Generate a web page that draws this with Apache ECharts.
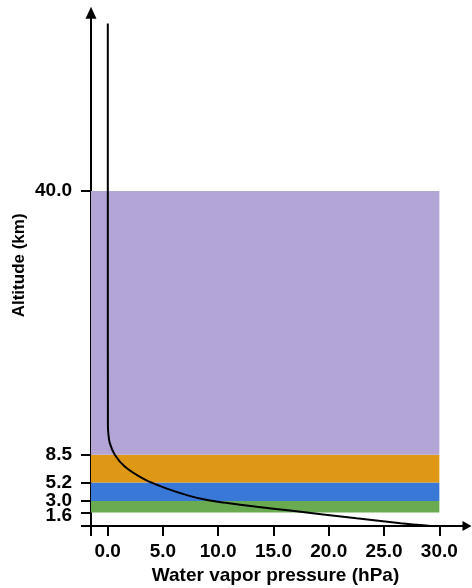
<!DOCTYPE html>
<html>
<head>
<meta charset="utf-8">
<script src="https://cdn.jsdelivr.net/npm/echarts@6/dist/echarts.min.js"></script>
<style>
html,body{margin:0;padding:0;background:#fff;}
#chart{width:472px;height:588px;}
</style>
</head>
<body>
<div id="chart"></div>
<script>
// ---- data ----
var altitudeTicks = [1.6, 3.0, 5.2, 8.5, 40.0];
var pressureTicks = [0, 5, 10, 15, 20, 25, 30];
var curveAltitude = [60, 30, 12, 11, 9.9, 8.5, 7.1, 5.6, 4.5, 3.6, 3.1, 2.8, 2.3, 1.85, 0.92, 0.32, 0];
var curvePressure = [0.02, 0.02, 0.03, 0.07, 0.2, 0.65, 1.55, 3.3, 5.3, 7.4, 9.0, 10.5, 13.5, 16.5, 22.5, 26.5, 29.2];
var bandBottoms = [1.6, 3.0, 5.2, 8.5];
var bandTops = [3.0, 5.2, 8.5, 40.0];
var bandRight = 30;

// ---- styles ----
var bandColors = ['#6aaa50', '#3a78d8', '#df9816', '#b3a5d5'];
var FONT = '"Liberation Sans", Arial, sans-serif';

var curveData = curveAltitude.map(function (a, i) { return [curvePressure[i], a]; });
var bandAreas = bandBottoms.map(function (b, i) {
  return [
    { xAxis: 'min', yAxis: b, itemStyle: { color: bandColors[i], opacity: 1 } },
    { xAxis: bandRight, yAxis: bandTops[i] }
  ];
});
// split the altitude labels over overlaid axes so that close labels are all shown
var labelsLow = altitudeTicks.slice(0, 1);
var labelsA = altitudeTicks.filter(function (v, i) { return i > 0 && i % 2 === 0; });
var labelsB = altitudeTicks.filter(function (v, i) { return i % 2 === 1; });

function yLabel(values, extra) {
  var o = {
    customValues: values,
    interval: 0, hideOverlap: false, showMinLabel: true, showMaxLabel: true,
    formatter: function (v) { return v.toFixed(1); },
    margin: 19, color: '#000', fontSize: 19, fontWeight: 'bold', fontFamily: FONT
  };
  return Object.assign(o, extra || {});
}
function overlayY(values, extra) {
  return {
    type: 'value', min: 0, max: 61.3, position: 'left', offset: 0,
    splitLine: { show: false }, axisLine: { show: false }, axisTick: { show: false },
    axisLabel: yLabel(values, extra)
  };
}

var chart = echarts.init(document.getElementById('chart'), null, { renderer: 'canvas' });
chart.setOption({
  animation: false,
  grid: { left: 91, right: 5, top: 12.7, bottom: 62, containLabel: false, outerBoundsMode: 'none' },
  xAxis: {
    type: 'value',
    min: -1.5,
    max: 32.5,
    splitLine: { show: false },
    axisLine: { show: true, onZero: false, symbol: ['none', 'triangle'], symbolSize: [10, 9], lineStyle: { color: '#000', width: 2 } },
    axisTick: { show: true, length: 10, lineStyle: { color: '#000', width: 2 }, customValues: [-1.5].concat(pressureTicks) },
    axisLabel: {
      customValues: pressureTicks,
      interval: 0,
      hideOverlap: false,
      showMinLabel: true,
      showMaxLabel: true,
      formatter: function (v) { return v.toFixed(1); },
      margin: 16, color: '#000', fontSize: 19, fontWeight: 'bold', fontFamily: FONT
    },
    name: 'Water vapor pressure (hPa)',
    nameLocation: 'middle',
    nameGap: 40,
    nameMoveOverlap: false,
    nameTextStyle: { color: '#000', fontSize: 19, fontWeight: 'bold', fontFamily: FONT, padding: [0, 7, 0, 0] }
  },
  yAxis: [
    {
      type: 'value',
      min: 0,
      max: 61.3,
      position: 'left',
      splitLine: { show: false },
      axisLine: { show: true, onZero: false, symbol: ['none', 'triangle'], symbolSize: [11, 12], lineStyle: { color: '#000', width: 2 } },
      axisTick: { show: true, length: 10, lineStyle: { color: '#000', width: 2 }, customValues: [0].concat(altitudeTicks) },
      axisLabel: yLabel(labelsA),
      name: 'Altitude (km)',
      nameLocation: 'middle',
      nameGap: 63,
      nameMoveOverlap: false,
      nameTextStyle: { color: '#000', fontSize: 17, fontWeight: 'bold', fontFamily: FONT, padding: [0, 0, 0, 8] }
    },
    overlayY(labelsB),
    overlayY(labelsLow, { verticalAlign: 'top', lineHeight: 6 })
  ],
  series: [
    {
      type: 'line',
      data: [],
      z: 1,
      silent: true,
      markArea: { silent: true, data: bandAreas }
    },
    {
      type: 'line',
      data: curveData,
      z: 3,
      smooth: 0.3,
      showSymbol: false,
      symbol: 'none',
      silent: true,
      lineStyle: { color: '#000', width: 2 }
    }
  ]
});
</script>
</body>
</html>
